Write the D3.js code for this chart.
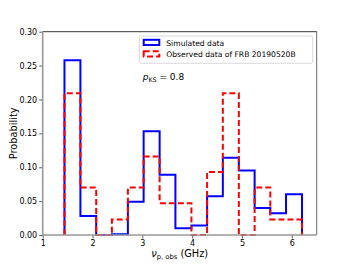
<!DOCTYPE html>
<html>
<head>
<meta charset="utf-8">
<script src="https://cdn.jsdelivr.net/npm/d3@7"></script>
<style>
  body { margin: 0; background: #fff; }
  text { font-family: "DejaVu Sans", sans-serif; }
</style>
</head>
<body>
<script>
// histogram bin edges (GHz)
var binEdges = [1.437, 1.757, 2.074, 2.389, 2.710, 3.026, 3.347, 3.664, 3.985, 4.300, 4.616, 4.937, 5.254, 5.568, 5.884, 6.205];
// simulated probabilities per bin
var simulated = [0.258, 0.028, 0.000, 0.001, 0.049, 0.153, 0.089, 0.010, 0.014, 0.057, 0.114, 0.095, 0.040, 0.032, 0.060];
// observed FRB 20190520B probabilities per bin
var observed = [0.209, 0.070, 0.000, 0.023, 0.070, 0.116, 0.047, 0.047, 0.000, 0.093, 0.209, 0.000, 0.070, 0.023, 0.023];
var xTicks = [1, 2, 3, 4, 5, 6];
var yTicks = [0, 0.05, 0.10, 0.15, 0.20, 0.25, 0.30];
var seriesNames = ["Simulated data", "Observed data of FRB 20190520B"];

var svg = d3.select("body").append("svg")
    .attr("width", 352)
    .attr("height", 264);

var margin = {top: 31.7, right: 35.3, bottom: 29, left: 42.7};
var width = 352 - margin.left - margin.right;
var height = 264 - margin.top - margin.bottom;

var g = svg.append("g")
    .attr("transform", "translate(" + margin.left + "," + margin.top + ")");

var x = d3.scaleLinear().domain([1, 6.5]).range([0, width]);
var y = d3.scaleLinear().domain([0, 0.30]).range([height, 0]);

// step outline like matplotlib histtype='step'
function stepPoints(vals) {
  var pts = [[binEdges[0], 0]];
  vals.forEach(function(v, i) {
    pts.push([binEdges[i], v]);
    pts.push([binEdges[i + 1], v]);
  });
  pts.push([binEdges[binEdges.length - 1], 0]);
  return pts;
}

var line = d3.line()
    .x(function(d) { return x(d[0]); })
    .y(function(d) { return y(d[1]); });

g.append("path")
    .attr("d", line(stepPoints(simulated)))
    .attr("fill", "none")
    .attr("stroke", "#0000ff")
    .attr("stroke-width", 2);

g.append("path")
    .attr("d", line(stepPoints(observed)))
    .attr("fill", "none")
    .attr("stroke", "#ff0000")
    .attr("stroke-width", 2)
    .attr("stroke-dasharray", "6,3");

// axes
var xAxis = g.append("g")
    .attr("transform", "translate(0," + height + ")")
    .call(d3.axisBottom(x).tickValues(xTicks).tickFormat(d3.format("d")).tickSize(3.5).tickPadding(2));
var yAxis = g.append("g")
    .call(d3.axisLeft(y).tickValues(yTicks).tickFormat(d3.format(".2f")).tickSize(3.5).tickPadding(2));

[xAxis, yAxis].forEach(function(a) {
  a.select(".domain").remove();
  a.selectAll(".tick line").attr("stroke", "#333").attr("stroke-width", 0.8);
  a.selectAll(".tick text")
    .style("font-family", "DejaVu Sans")
    .style("font-size", "8px")
    .attr("fill", "#000");
});

// spines
g.append("line").attr("x1", 0).attr("x2", width).attr("y1", 0).attr("y2", 0)
    .attr("stroke", "#000").attr("stroke-width", 0.8);
g.append("line").attr("x1", width).attr("x2", width).attr("y1", 0).attr("y2", height)
    .attr("stroke", "#444").attr("stroke-width", 0.8);
g.append("line").attr("x1", 0).attr("x2", 0).attr("y1", 0).attr("y2", height)
    .attr("stroke", "#999").attr("stroke-width", 1.6);
g.append("line").attr("x1", 0).attr("x2", width).attr("y1", height).attr("y2", height)
    .attr("stroke", "#999").attr("stroke-width", 1.6);

// legend
var legend = svg.append("g").attr("transform", "translate(139.3,36)");
legend.append("rect")
    .attr("width", 173.4).attr("height", 27.3)
    .attr("rx", 2)
    .attr("fill", "#fff").attr("fill-opacity", 0.8)
    .attr("stroke", "#d0d0d0").attr("stroke-width", 0.8);
var colors = ["#0000ff", "#ff0000"];
seriesNames.forEach(function(name, i) {
  var row = legend.append("g").attr("transform", "translate(0," + (i * 11.5) + ")");
  row.append("rect")
      .attr("x", 4.4).attr("y", 3.8)
      .attr("width", 15.6).attr("height", 5.2)
      .attr("fill", "none")
      .attr("stroke", colors[i])
      .attr("stroke-width", 2)
      .attr("stroke-dasharray", i === 1 ? "6,3" : null);
  row.append("text")
      .attr("x", 27).attr("y", 9.8)
      .style("font-size", "7.6px")
      .text(name);
});

// p_KS annotation
var pks = svg.append("text")
    .attr("x", 142.7).attr("y", 79.5)
    .style("font-size", "9px");
pks.append("tspan").style("font-style", "italic").text("p");
pks.append("tspan").attr("dy", 2).style("font-size", "6.3px").text("KS");
pks.append("tspan").attr("dy", -2).text(" = 0.8");

// axis labels
svg.append("text")
    .attr("transform", "translate(16.8," + (margin.top + height / 2) + ") rotate(-90)")
    .attr("text-anchor", "middle")
    .style("font-size", "9.8px")
    .text("Probability");

var xl = svg.append("text")
    .attr("x", margin.left + x(3.75)).attr("y", 257)
    .attr("text-anchor", "middle")
    .style("font-size", "9.8px");
xl.append("tspan").style("font-style", "italic").text("ν");
xl.append("tspan").attr("dy", 2).style("font-size", "6.8px").text("p, obs");
xl.append("tspan").attr("dy", -2).text(" (GHz)");
</script>
</body>
</html>
